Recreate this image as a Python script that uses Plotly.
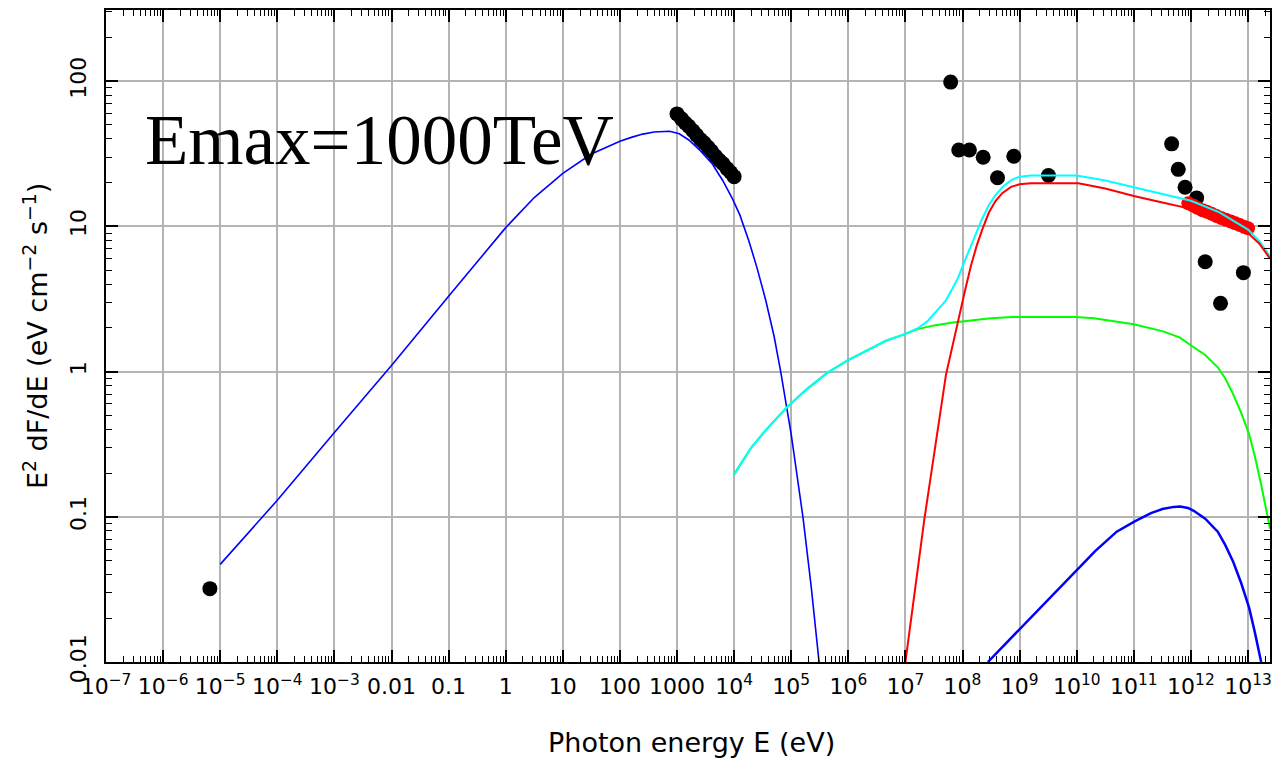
import plotly.graph_objects as go

# ---- model curves: log10(photon energy / eV) and E^2 dF/dE in eV cm^-2 s^-1 ----
sync_logE = [-5, -4, -3, -2, -1, -0.5, 0, 0.5, 1, 1.5, 2, 2.2, 2.4, 2.6, 2.87, 3.04,
             3.2, 3.4, 3.62, 3.8, 3.97, 4.1, 4.26, 4.4, 4.554, 4.7, 4.816, 5.0,
             5.208, 5.35, 5.488]
sync_F = [0.047, 0.13, 0.38, 1.1, 3.3, 5.7, 9.8, 15.8, 23.2, 31.5, 38.5, 41, 43.2, 44.6,
          45.2, 43.4, 39.5, 33.5, 26.9, 20.7, 15.5, 12, 7.9, 5.2, 3.1, 1.75, 1.0, 0.37,
          0.098, 0.033, 0.01]

brems_logE = [4.0, 4.3, 4.59, 4.93, 5.28, 5.63, 5.98, 6.32, 6.66, 6.99, 7.215, 7.5,
              7.836, 8.18, 8.5, 8.87, 9.98, 10.3, 10.6, 11.0, 11.5, 11.8, 12.05, 12.25,
              12.47, 12.6, 12.74, 12.88, 13.02, 13.12, 13.23, 13.35, 13.385]
brems_F = [0.196, 0.30, 0.41, 0.57, 0.76, 0.98, 1.19, 1.39, 1.63, 1.81, 1.96, 2.08,
           2.18, 2.26, 2.33, 2.38, 2.38, 2.33, 2.24, 2.12, 1.9, 1.72, 1.47, 1.3,
           1.07, 0.9, 0.70, 0.52, 0.37, 0.26, 0.167, 0.098, 0.083]

total_logE = [4.0, 4.3, 4.59, 4.93, 5.28, 5.63, 5.98, 6.32, 6.66, 6.99, 7.236, 7.4,
              7.55, 7.7, 7.82, 7.92, 8.0, 8.17, 8.34, 8.46, 8.58, 8.72, 8.87, 9.0,
              9.2, 10.0, 10.5, 11.0, 11.5, 12.0, 12.5, 13.0, 13.2, 13.385]
total_F = [0.196, 0.30, 0.41, 0.57, 0.76, 0.98, 1.19, 1.39, 1.63, 1.81, 2.01, 2.25,
           2.6, 3.05, 3.7, 4.4, 5.3, 7.8, 11.2, 14, 16.5, 19, 21, 22,
           22.4, 22.4, 20.7, 18.6, 16.7, 15.0, 12.5, 9.5, 7.9, 6.2]

pion_logE = [7.0, 7.33, 7.71, 7.85, 7.95, 8.05, 8.15, 8.25, 8.35, 8.46, 8.58, 8.7,
             8.85, 9.0, 9.2, 10.03, 10.5, 11.0, 11.5, 12.0, 12.5, 13.0, 13.2, 13.385]
pion_F = [0.01, 0.095, 0.95, 1.7, 2.5, 3.7, 5.4, 7.4, 9.6, 12.4, 15.0, 17.0,
          18.7, 19.5, 19.8, 19.8, 18.2, 16.2, 14.6, 13.2, 11.4, 9.0, 7.6, 6.0]

ic_logE = [8.444, 8.7, 9.01, 9.35, 9.7, 10.0, 10.323, 10.7, 11.016, 11.3, 11.5, 11.7,
           11.81, 11.95, 12.05, 12.25, 12.47, 12.6, 12.74, 12.88, 13.02, 13.12, 13.23]
ic_F = [0.01, 0.0127, 0.017, 0.0234, 0.0327, 0.0434, 0.058, 0.079, 0.093, 0.106, 0.113,
        0.117, 0.1175, 0.115, 0.11, 0.097, 0.079, 0.064, 0.049, 0.035, 0.0236, 0.016, 0.01]

# ---- observed fluxes (energy in eV) ----
radio_E = [6.6e-6]
radio_F = [0.032]

xray_E = [1000, 1200, 1400, 1600, 1900, 2200, 2600, 3000, 3500, 4000,
          4700, 5500, 6400, 7500, 8700, 10000]
xray_F = [59.5, 55, 51.5, 49, 45.5, 42.5, 39.5, 37.5, 35, 33,
          30.5, 28.5, 27, 25, 23.5, 22]

gamma_E = [6.2e7, 8.6e7, 1.32e8, 2.3e8, 4.1e8, 7.9e8, 3.2e9,
           4.6e11, 6.0e11, 7.9e11, 1.26e12, 1.78e12, 3.3e12, 8.3e12]
gamma_F = [98.5, 33.6, 33.6, 29.9, 21.6, 30.4, 22.4,
           37, 24.7, 18.6, 15.7, 5.7, 2.95, 4.8]

hess_E = [9.0e11, 1.1e12, 1.3e12, 1.6e12, 1.9e12, 2.3e12, 2.8e12, 3.4e12,
          4.1e12, 5.0e12, 6.0e12, 7.2e12, 8.7e12, 1.0e13]
hess_F = [14.4, 13.9, 13.4, 12.9, 12.6, 12.2, 11.8, 11.4,
          11.1, 10.8, 10.5, 10.2, 9.9, 9.7]

# ---- tick labels ----
x_tick_exp = list(range(-7, 14))
x_tick_text = ["10<sup>\u22127</sup>", "10<sup>\u22126</sup>", "10<sup>\u22125</sup>",
               "10<sup>\u22124</sup>", "10<sup>\u22123</sup>", "0.01", "0.1", "1", "10",
               "100", "1000", "10<sup>4</sup>", "10<sup>5</sup>", "10<sup>6</sup>",
               "10<sup>7</sup>", "10<sup>8</sup>", "10<sup>9</sup>", "10<sup>10</sup>",
               "10<sup>11</sup>", "10<sup>12</sup>", "10<sup>13</sup>"]
y_tick_exp = [-2, -1, 0, 1, 2]
y_tick_text = ["0.01", "0.1", "1", "10", "100"]


def to_ev(log_values):
    return [10.0 ** v for v in log_values]


x_tick_vals = to_ev(x_tick_exp)
y_tick_vals = to_ev(y_tick_exp)
x_minor = [k * 10.0 ** d for d in range(-7, 14) for k in range(2, 10)]
y_minor = [k * 10.0 ** d for d in range(-2, 3) for k in range(2, 10)]

fig = go.Figure()

marker_black = dict(color="black", size=15, line=dict(width=0))
fig.add_trace(go.Scatter(x=radio_E, y=radio_F, mode="markers", marker=marker_black))
fig.add_trace(go.Scatter(x=xray_E, y=xray_F, mode="markers", marker=marker_black))
fig.add_trace(go.Scatter(x=gamma_E, y=gamma_F, mode="markers", marker=marker_black))
fig.add_trace(go.Scatter(x=hess_E, y=hess_F, mode="markers",
                         marker=dict(color="#ff0000", size=14, line=dict(width=0))))

curves = [
    (sync_logE, sync_F, "#0000ff", 1.6),
    (brems_logE, brems_F, "#00ff00", 2),
    (total_logE, total_F, "#00ffff", 2),
    (pion_logE, pion_F, "#ff0000", 2),
    (ic_logE, ic_F, "#0000ff", 2.5),
]
for logE, flux, colour, width in curves:
    fig.add_trace(go.Scatter(x=to_ev(logE), y=flux, mode="lines",
                             line=dict(color=colour, width=width)))

tick_font = dict(family="DejaVu Sans", size=22, color="black")
axis_common = dict(
    type="log", tickmode="array", ticks="inside", ticklen=12, tickwidth=1.5,
    tickcolor="black", showline=True, linecolor="black", linewidth=2,
    mirror="ticks", showgrid=True, gridcolor="#b4b4b4", gridwidth=1.5,
    zeroline=False, tickfont=tick_font,
)

fig.update_layout(
    width=1272, height=759,
    margin=dict(l=106, r=0, t=10, b=97),
    paper_bgcolor="white", plot_bgcolor="white",
    showlegend=False,
    xaxis=dict(axis_common, range=[-7, 13.385], tickvals=x_tick_vals,
               ticktext=x_tick_text, tickangle=0, ticklabelstandoff=4,
               minor=dict(tickvals=x_minor, ticks="inside", ticklen=6,
                          tickcolor="black", tickwidth=1, showgrid=False)),
    yaxis=dict(axis_common, range=[-2, 2.49], tickvals=y_tick_vals,
               ticktext=y_tick_text, tickangle=-90, ticklabelstandoff=9,
               minor=dict(tickvals=y_minor, ticks="inside", ticklen=6,
                          tickcolor="black", tickwidth=1, showgrid=False)),
    annotations=[
        dict(text="Emax=1000TeV", xref="paper", yref="paper", x=0.0317, y=0.8006,
             xanchor="left", yanchor="middle", showarrow=False,
             font=dict(family="Liberation Serif", size=71, color="black")),
        dict(text="Photon energy E (eV)", xref="paper", yref="paper", x=0.5026,
             y=-0.1227, xanchor="center", yanchor="middle", showarrow=False,
             font=dict(family="DejaVu Sans", size=27, color="black")),
        dict(text="E<sup>2</sup> dF/dE (eV cm<sup>\u22122</sup> s<sup>\u22121</sup>)",
             xref="paper", yref="paper", x=-0.0609, y=0.5, xanchor="center",
             yanchor="middle", textangle=-90, showarrow=False,
             font=dict(family="DejaVu Sans", size=27, color="black")),
    ],
)

fig.write_html("out.html")
